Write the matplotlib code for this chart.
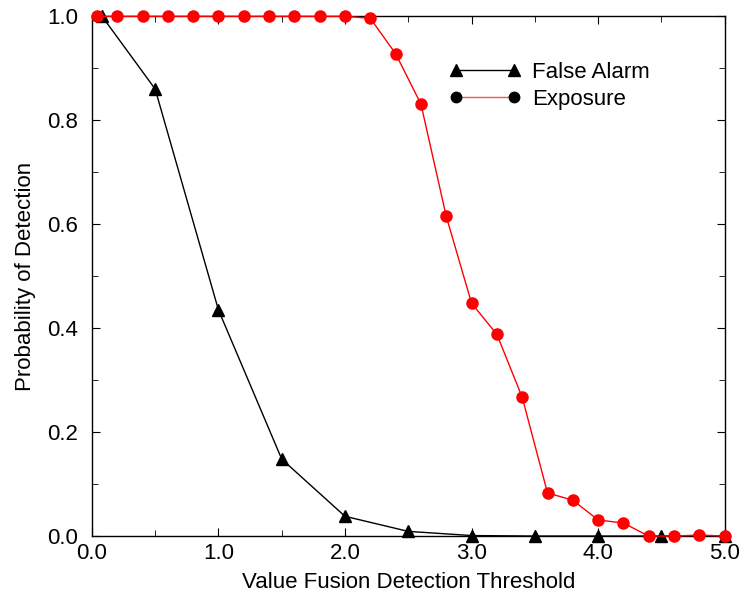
import matplotlib
matplotlib.use("Agg")
import matplotlib.pyplot as plt
from matplotlib.lines import Line2D
from matplotlib.ticker import MultipleLocator

plt.rcParams['font.family'] = ['Liberation Sans', 'DejaVu Sans']

fa_x = [0.08, 0.5, 1.0, 1.5, 2.0, 2.5, 3.0, 3.5, 4.0, 4.5, 5.0]
fa_y = [1.0, 0.86, 0.435, 0.148, 0.038, 0.009, 0.001, 0.0, 0.0, 0.0, 0.0]

ex_x = [0.04, 0.2, 0.4, 0.6, 0.8, 1.0, 1.2, 1.4, 1.6, 1.8, 2.0, 2.2, 2.4, 2.6,
        2.8, 3.0, 3.2, 3.4, 3.6, 3.8, 4.0, 4.2, 4.4, 4.6, 4.8, 5.0]
ex_y = [1.0, 1.0, 1.0, 1.0, 1.0, 1.0, 1.0, 1.0, 1.0, 1.0, 1.0, 0.996, 0.928, 0.831,
        0.615, 0.448, 0.388, 0.267, 0.083, 0.069, 0.031, 0.025, 0.0, 0.0, 0.002, 0.0]

x_ticks = [0.0, 1.0, 2.0, 3.0, 4.0, 5.0]
y_ticks = [0.0, 0.2, 0.4, 0.6, 0.8, 1.0]

fig = plt.figure(figsize=(7.41, 6.03), dpi=100)
ax = fig.add_axes([0.124, 0.111, 0.854, 0.862])

ax.plot(fa_x, fa_y, color='black', lw=1, marker='^', markersize=8.5, clip_on=False, zorder=3)
ax.plot(ex_x, ex_y, color='red', lw=1, marker='o', markersize=8, clip_on=False, zorder=4)

ax.set_xlim(0, 5)
ax.set_ylim(0, 1)
ax.set_xticks(x_ticks)
ax.set_xticklabels([f"{v:.1f}" for v in x_ticks])
ax.set_yticks(y_ticks)
ax.set_yticklabels([f"{v:.1f}" for v in y_ticks])
ax.xaxis.set_minor_locator(MultipleLocator(0.5))
ax.yaxis.set_minor_locator(MultipleLocator(0.1))
ax.tick_params(which='both', direction='in', top=True, right=True, labelsize=16)
ax.tick_params(which='major', length=6)
ax.tick_params(which='minor', length=4)
ax.tick_params(axis='y', which='major', pad=10)
ax.tick_params(axis='x', which='major', pad=5)
for s in ax.spines.values():
    s.set_linewidth(1)

ax.set_xlabel("Value Fusion Detection Threshold", fontsize=16, labelpad=6)
ax.set_ylabel("Probability of Detection", fontsize=16, labelpad=8)

handles = [
    Line2D([0], [0], color='black', lw=1, marker='^', markersize=8.5,
           markerfacecolor='black', markeredgecolor='black'),
    Line2D([0], [0], color='#ff5050', lw=1, marker='o', markersize=7.5,
           markerfacecolor='black', markeredgecolor='black'),
]
ax.legend(handles, ["False Alarm", "Exposure"], loc='upper left',
          bbox_to_anchor=(0.565, 0.913), frameon=False, fontsize=16,
          numpoints=2, handlelength=3.2, handletextpad=0.5, labelspacing=0.3,
          borderpad=0, borderaxespad=0)

fig.savefig("out.png", dpi=100)
